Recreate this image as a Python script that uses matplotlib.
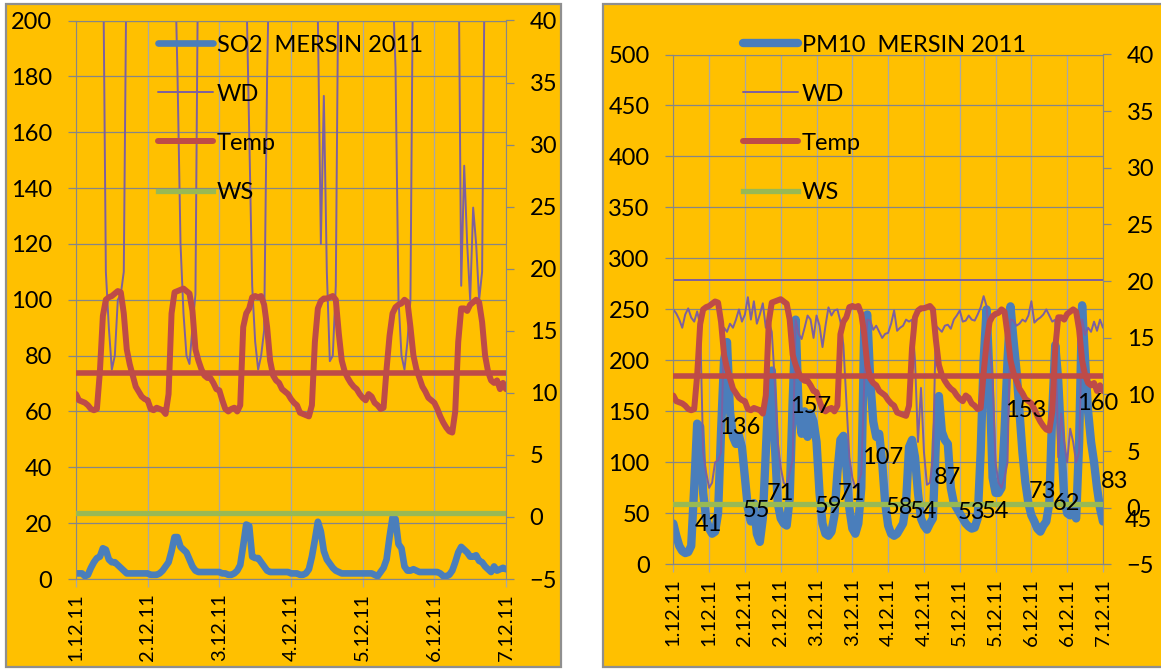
import matplotlib.pyplot as plt
from matplotlib.patches import Rectangle

plt.rcParams['font.family'] = ['Lato', 'DejaVu Sans']

# hourly readings, 1.12.2011 00:00 ... 7.12.2011 00:00
temp = [
    9.9, 9.4, 9.3, 9.2, 9.0, 8.7, 8.6, 8.7, 11.7, 16.2, 17.5, 17.7,
    17.8, 18.0, 18.2, 18.1, 16.4, 13.5, 12.3, 11.4, 10.5, 10.1, 9.7, 9.5,
    9.4, 8.7, 8.6, 8.8, 8.7, 8.6, 8.3, 9.9, 16.4, 18.1, 18.2, 18.3,
    18.4, 18.2, 18.0, 16.6, 13.5, 12.6, 11.9, 11.4, 11.2, 11.2, 10.8, 10.3,
    10.2, 9.4, 8.7, 8.5, 8.7, 8.8, 8.5, 9.0, 15.3, 16.4, 16.8, 17.7,
    17.8, 17.7, 17.8, 17.1, 15.3, 12.6, 11.4, 11.0, 10.8, 10.3, 10.1, 9.9,
    9.5, 9.2, 9.0, 8.4, 8.3, 8.2, 8.1, 9.0, 14.1, 16.8, 17.4, 17.6,
    17.6, 17.7, 17.8, 17.5, 14.8, 12.6, 11.7, 11.2, 10.8, 10.5, 10.3, 9.9,
    9.6, 9.4, 9.9, 9.7, 9.2, 9.0, 8.7, 8.8, 11.9, 14.6, 16.4, 16.9,
    17.1, 17.2, 17.5, 17.3, 15.3, 13.0, 11.9, 11.2, 10.5, 10.1, 9.6, 9.4,
    9.2, 8.7, 8.1, 7.6, 7.2, 6.9, 6.8, 8.5, 14.1, 16.8, 16.8, 16.6,
    17.1, 17.3, 17.5, 17.3, 15.7, 13.0, 11.7, 11.0, 10.8, 11.0, 10.3, 10.8,
    10.3,
]
wd = [
    250, 246, 240, 232, 245, 251, 242, 238, 248, 235, 110, 90,
    75, 80, 100, 102, 110, 232, 228, 236, 232, 240, 250, 238,
    245, 262, 240, 258, 236, 245, 256, 232, 238, 228, 180, 120,
    95, 80, 77, 90, 102, 240, 226, 221, 232, 244, 240, 222,
    244, 234, 213, 234, 252, 244, 249, 250, 238, 215, 160, 105,
    85, 75, 80, 89, 180, 240, 239, 230, 234, 228, 222, 226,
    227, 236, 249, 229, 232, 234, 240, 238, 240, 200, 120, 173,
    110, 78, 80, 105, 234, 231, 228, 234, 235, 231, 240, 244,
    249, 238, 239, 244, 240, 239, 245, 252, 263, 253, 215, 183,
    100, 80, 75, 85, 100, 240, 239, 234, 236, 240, 238, 244,
    258, 237, 240, 242, 245, 250, 244, 238, 240, 105, 148, 120,
    100, 133, 120, 100, 110, 240, 225, 232, 228, 238, 229, 240,
    232,
]
so2 = [
    2, 2, 2, 1, 1.5, 4, 6, 7.5, 8, 11, 10.5, 7,
    6, 6, 5, 4, 3, 2, 2, 2, 2, 2, 2, 2,
    2, 1.5, 1.5, 1.5, 2, 3, 4.5, 6, 10, 15, 15, 11.5,
    10.5, 9.5, 7, 4.5, 3, 2.5, 2.5, 2.5, 2.5, 2.5, 2.5, 2.5,
    2.5, 2, 2, 1.5, 1.5, 2, 3, 5, 12, 19.5, 19, 8,
    7.5, 7.5, 6, 4.5, 3, 2.5, 2.5, 2.5, 2.5, 2.5, 2.5, 2.5,
    2, 2, 2, 1.5, 1.5, 2, 3.5, 8, 14, 20.5, 17, 10,
    7, 5.5, 4, 3, 2.5, 2, 2, 2, 2, 2, 2, 2,
    2, 2, 2, 2, 1.5, 1, 2.5, 4, 7, 15, 22, 21.5,
    12.5, 11, 4.5, 3, 3, 3.5, 3, 2.5, 2.5, 2.5, 2.5, 2.5,
    2.5, 2.5, 2, 1, 1, 1.5, 3, 6, 9.5, 11.5, 10.5, 9.5,
    8, 8, 8.5, 6.5, 6, 4.5, 3.5, 2.5, 4.5, 3, 3.5, 4,
    3.5,
]
pm10 = [
    40, 28, 18, 13, 11, 12, 18, 75, 138, 135, 70, 45,
    35, 30, 32, 50, 130, 200, 218, 150, 125, 118, 126, 115,
    85, 55, 42, 60, 30, 22, 45, 110, 175, 190, 120, 60,
    45, 40, 38, 65, 160, 240, 150, 128, 150, 125, 148, 140,
    120, 70, 40, 30, 28, 32, 48, 90, 122, 126, 96, 55,
    35, 30, 40, 75, 235, 245, 180, 140, 125, 128, 100, 60,
    38, 30, 28, 30, 35, 40, 60, 115, 122, 105, 70, 45,
    38, 34, 40, 45, 120, 165, 130, 122, 118, 75, 60, 55,
    50, 45, 40, 37, 35, 36, 45, 110, 200, 250, 180, 85,
    70, 70, 75, 130, 200, 253, 220, 190, 150, 110, 80, 60,
    48, 42, 35, 32, 38, 42, 60, 150, 215, 180, 120, 65,
    50, 48, 52, 45, 120, 254, 200, 150, 120, 100, 75, 55,
    42,
]
# values written on the PM10 chart, one every 8 hours
pm10_8h = [41, 136, 55, 71, 157, 59, 71, 107, 58, 54, 87, 53, 54, 153, 73, 62, 160, 83, 45]

temp_mean = 11.6
ws = 0.3
wd_mean = 279

days = ['1.12.11', '2.12.11', '3.12.11', '4.12.11', '5.12.11', '6.12.11', '7.12.11']
half_days = ['1.12.11', '1.12.11', '2.12.11', '2.12.11', '3.12.11', '3.12.11', '4.12.11',
             '4.12.11', '5.12.11', '5.12.11', '6.12.11', '6.12.11', '7.12.11']

ORANGE = '#FFC000'
BLUE = '#4A7EBB'
RED = '#BE4B48'
PURPLE = '#7D60A0'
GREEN = '#98B954'
HGRID = '#868686'
VGRID = '#A8A8A8'
FS = 17

W, H = 1161, 669
fig = plt.figure(figsize=(W / 100, H / 100), dpi=100)


def px_rect(x0, y0, x1, y1):
    return [x0 / W, 1 - y1 / H, (x1 - x0) / W, (y1 - y0) / H]


def panel(frame, plot, values, name, ymax, ystep, xstep, xlabels, lw, legend_xy):
    fx0, fy0, fx1, fy1 = frame
    fig.patches.append(Rectangle((fx0 / W, 1 - fy1 / H), (fx1 - fx0) / W, (fy1 - fy0) / H,
                                 transform=fig.transFigure, facecolor=ORANGE,
                                 edgecolor='#8f8f8f', lw=1.6, zorder=-5))
    ax = fig.add_axes(px_rect(*plot))
    ax.patch.set_visible(False)
    ax2 = ax.twinx()
    hours = range(len(values))

    line_kw = dict(solid_joinstyle='round', solid_capstyle='round')
    l_main, = ax.plot(hours, values, color=BLUE, lw=lw, **line_kw)
    l_wd, = ax.plot(hours, wd, color=PURPLE, lw=1.4, **line_kw)
    ax.axhline(wd_mean, color=PURPLE, lw=1.4)
    l_temp, = ax2.plot(hours, temp, color=RED, lw=4.3, **line_kw)
    ax2.axhline(temp_mean, color=RED, lw=4.0)
    l_ws = ax2.axhline(ws, color=GREEN, lw=3.8)

    ax.set_xlim(0, 144)
    ax.set_ylim(0, ymax)
    ax2.set_ylim(-5, 40)
    ax.set_yticks(range(0, ymax + 1, ystep))
    ax2.set_yticks(range(-5, 41, 5))
    ax.set_xticks(range(0, 145, xstep))
    ax.set_xticklabels(xlabels, rotation=90)

    ax.set_axisbelow(True)
    ax.grid(axis='y', color=HGRID, lw=0.9)
    ax.grid(axis='x', color=VGRID, lw=0.9)
    for side in ('left', 'bottom', 'top'):
        ax.spines[side].set_color(HGRID)
    ax.spines['right'].set_visible(False)
    for side in ('left', 'bottom', 'top'):
        ax2.spines[side].set_visible(False)
    ax2.spines['right'].set_color(HGRID)

    ax.tick_params(axis='y', direction='out', length=6, width=0.9, color=HGRID,
                   pad=11, labelsize=FS, labelcolor='black')
    ax2.tick_params(axis='y', direction='out', length=6, width=0.9, color=HGRID,
                    pad=11, labelsize=FS, labelcolor='black')
    ax.tick_params(axis='x', direction='out', length=6, width=0.9, color=VGRID,
                   pad=4, labelsize=14.5, labelcolor='black')

    ax2.legend([l_main, l_wd, l_temp, l_ws], [name, 'WD', 'Temp', 'WS'],
               loc='upper left', bbox_to_anchor=(legend_xy[0] / W, 1 - legend_xy[1] / H),
               bbox_transform=fig.transFigure, frameon=False, fontsize=FS,
               borderpad=0, borderaxespad=0, handlelength=2.35, handletextpad=0.15,
               labelspacing=1.19)
    return ax, ax2


panel((6, 4, 561, 667), (76, 20.5, 506, 579), so2, 'SO2  MERSIN 2011',
      200, 20, 24, days, 4.8, (158, 34.5))

ax, ax2 = panel((603, 4, 1164, 667), (673.3, 54.5, 1103, 564.3), pm10, 'PM10  MERSIN 2011',
                500, 50, 12, half_days, 6.0, (743, 34.5))

for k, v in enumerate(pm10_8h):
    ax2.annotate(str(v), xy=(8 * k, v), xycoords=ax.transData, xytext=(15.5, -1.5),
                 textcoords='offset points', ha='left', va='center', fontsize=FS,
                 color='black', annotation_clip=False, zorder=10)

fig.savefig('out.png', dpi=100)
